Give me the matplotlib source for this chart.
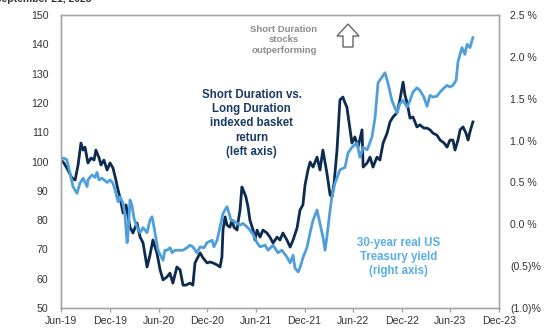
import numpy as np
import pandas as pd
import matplotlib
matplotlib.use("Agg")
import matplotlib.pyplot as plt
import matplotlib.dates as mdates
from matplotlib.patches import Polygon
from matplotlib.ticker import FuncFormatter, MultipleLocator

plt.rcParams['font.family'] = ['Liberation Sans', 'DejaVu Sans']

# Short vs long duration basket (index, left axis)
basket_dates = [
    '2019-06-01', '2019-06-12', '2019-06-27', '2019-07-12', '2019-07-24', '2019-08-04', '2019-08-15',
    '2019-08-23', '2019-08-30', '2019-09-10', '2019-09-22', '2019-10-03', '2019-10-10', '2019-10-22',
    '2019-10-29', '2019-11-09', '2019-11-21', '2019-12-02', '2019-12-13', '2019-12-24', '2020-01-01',
    '2020-01-08', '2020-01-20', '2020-01-31', '2020-02-15', '2020-02-26', '2020-03-12', '2020-03-24',
    '2020-04-04', '2020-04-19', '2020-04-30', '2020-05-11', '2020-05-26', '2020-06-07', '2020-06-18',
    '2020-07-03', '2020-07-14', '2020-07-25', '2020-08-09', '2020-08-21', '2020-09-01', '2020-09-12',
    '2020-09-27', '2020-10-08', '2020-10-16', '2020-10-27', '2020-11-04', '2020-11-15', '2020-11-30',
    '2020-12-11', '2020-12-22', '2021-01-07', '2021-01-18', '2021-01-25', '2021-01-29', '2021-02-06',
    '2021-02-13', '2021-02-24', '2021-03-04', '2021-03-11', '2021-03-23', '2021-03-26', '2021-04-03',
    '2021-04-10', '2021-04-18', '2021-04-25', '2021-05-03', '2021-05-10', '2021-05-22', '2021-05-29',
    '2021-06-06', '2021-06-17', '2021-06-28', '2021-07-13', '2021-07-24', '2021-08-05', '2021-08-20',
    '2021-08-31', '2021-09-11', '2021-09-26', '2021-10-08', '2021-10-19', '2021-11-03', '2021-11-14',
    '2021-11-25', '2021-12-03', '2021-12-14', '2021-12-22', '2022-01-02', '2022-01-17', '2022-01-28',
    '2022-02-08', '2022-02-23', '2022-03-07', '2022-03-14', '2022-03-22', '2022-04-02', '2022-04-13',
    '2022-04-24', '2022-05-02', '2022-05-09', '2022-05-21', '2022-05-28', '2022-06-08', '2022-06-20',
    '2022-07-05', '2022-07-09', '2022-07-24', '2022-08-04', '2022-08-15', '2022-08-30', '2022-09-10',
    '2022-09-22', '2022-10-07', '2022-10-18', '2022-10-29', '2022-11-13', '2022-11-24', '2022-12-06',
    '2022-12-13', '2022-12-21', '2023-01-01', '2023-01-12', '2023-01-27', '2023-02-07', '2023-02-22',
    '2023-03-06', '2023-03-17', '2023-03-28', '2023-04-12', '2023-04-24', '2023-05-09', '2023-05-20',
    '2023-05-31', '2023-06-11', '2023-06-19', '2023-06-30', '2023-07-08', '2023-07-19', '2023-07-30',
    '2023-08-07', '2023-08-14', '2023-08-25',
]
basket_values = [
    100.5, 99.5, 97.1, 94.4, 93.7, 98.8, 106.3,
    103.9, 104.9, 99.5, 101.2, 100.5, 103.9, 101.2,
    98.8, 100.5, 97.1, 99.5, 97.8, 93.7, 90.3,
    87.9, 82.4, 85.2, 77.6, 75.6, 79.0, 74.2,
    72.2, 64.0, 68.1, 73.2, 68.8, 63.0, 59.6,
    60.6, 61.9, 58.5, 64.0, 63.0, 57.8, 57.8,
    58.5, 57.8, 65.4, 67.4, 68.8, 67.1, 65.4,
    65.7, 65.4, 64.7, 64.0, 67.4, 76.6, 81.1,
    78.3, 77.6, 80.0, 77.6, 76.6, 79.0, 83.4,
    91.3, 89.6, 87.9, 84.5, 80.0, 76.6, 73.2,
    76.6, 74.2, 76.6, 75.6, 74.2, 72.2, 74.2,
    73.2, 75.6, 73.2, 70.8, 73.2, 77.3, 83.4,
    85.2, 92.0, 97.1, 99.8, 98.1, 101.5, 97.1,
    103.9, 96.1, 88.6, 87.9, 92.7, 103.9, 121.0,
    122.0, 120.0, 118.6, 110.8, 106.3, 108.4, 104.9,
    110.8, 98.1, 99.5, 101.5, 98.1, 101.5, 100.5,
    106.3, 109.7, 113.5, 115.2, 116.6, 121.0, 127.1,
    122.7, 120.0, 114.8, 115.2, 111.8, 112.5, 111.4,
    111.4, 110.8, 109.7, 109.0, 107.3, 106.3, 104.9,
    107.3, 107.3, 103.9, 107.3, 110.8, 111.8, 109.7,
    107.3, 110.1, 113.5,
]

# 30-year real US Treasury yield (%, right axis)
yield_dates = [
    '2019-06-01', '2019-06-12', '2019-06-23', '2019-07-05', '2019-07-16', '2019-07-31', '2019-08-11',
    '2019-08-23', '2019-09-07', '2019-09-10', '2019-09-25', '2019-10-07', '2019-10-14', '2019-10-22',
    '2019-11-02', '2019-11-21', '2019-12-02', '2019-12-13', '2019-12-21', '2020-01-01', '2020-01-08',
    '2020-01-20', '2020-01-27', '2020-02-04', '2020-02-07', '2020-02-15', '2020-02-22', '2020-03-01',
    '2020-03-12', '2020-03-24', '2020-04-04', '2020-04-19', '2020-04-30', '2020-05-08', '2020-05-15',
    '2020-05-30', '2020-06-10', '2020-06-18', '2020-06-25', '2020-07-03', '2020-07-14', '2020-07-22',
    '2020-08-02', '2020-08-13', '2020-09-01', '2020-09-16', '2020-09-27', '2020-10-08', '2020-10-23',
    '2020-11-04', '2020-11-19', '2020-11-30', '2020-12-19', '2020-12-26', '2021-01-07', '2021-01-18',
    '2021-01-29', '2021-02-13', '2021-02-21', '2021-02-28', '2021-03-15', '2021-04-03', '2021-04-14',
    '2021-04-29', '2021-05-10', '2021-05-22', '2021-06-06', '2021-06-17', '2021-07-06', '2021-07-17',
    '2021-08-05', '2021-08-23', '2021-09-07', '2021-09-26', '2021-10-08', '2021-10-19', '2021-10-26',
    '2021-11-07', '2021-11-14', '2021-11-25', '2021-12-10', '2021-12-22', '2022-01-02', '2022-01-17',
    '2022-01-28', '2022-02-08', '2022-02-16', '2022-02-23', '2022-03-07', '2022-03-14', '2022-03-25',
    '2022-04-13', '2022-05-02', '2022-05-13', '2022-05-28', '2022-06-16', '2022-06-27', '2022-07-09',
    '2022-07-24', '2022-08-11', '2022-08-23', '2022-09-03', '2022-09-18', '2022-09-29', '2022-10-10',
    '2022-10-25', '2022-11-13', '2022-11-24', '2022-12-06', '2022-12-21', '2023-01-01', '2023-01-12',
    '2023-01-27', '2023-02-07', '2023-02-22', '2023-03-06', '2023-03-17', '2023-03-28', '2023-04-12',
    '2023-04-24', '2023-05-09', '2023-05-20', '2023-05-31', '2023-06-11', '2023-06-23', '2023-06-30',
    '2023-07-15', '2023-07-26', '2023-08-03', '2023-08-14', '2023-08-25',
]
yield_values = [
    0.79, 0.79, 0.77, 0.61, 0.45, 0.37, 0.49,
    0.55, 0.45, 0.53, 0.59, 0.56, 0.62, 0.53,
    0.55, 0.50, 0.53, 0.49, 0.41, 0.27, 0.33,
    0.25, 0.11, -0.22, -0.15, 0.29, 0.23, 0.07,
    -0.03, -0.10, -0.04, -0.10, 0.05, 0.09, -0.03,
    -0.31, -0.38, -0.43, -0.31, -0.31, -0.28, -0.34,
    -0.31, -0.31, -0.31, -0.28, -0.25, -0.27, -0.34,
    -0.27, -0.28, -0.22, -0.19, -0.27, -0.19, -0.03,
    0.13, 0.21, 0.13, 0.05, 0.03, -0.01, 0.01,
    -0.03, -0.07, -0.12, -0.22, -0.27, -0.25, -0.31,
    -0.25, -0.34, -0.31, -0.39, -0.46, -0.37, -0.52,
    -0.57, -0.52, -0.40, -0.28, -0.10, 0.05, 0.17,
    0.01, -0.15, -0.31, -0.15, 0.17, 0.33, 0.49,
    0.65, 0.68, 0.85, 0.92, 0.97, 0.80, 0.92,
    0.89, 1.04, 1.28, 1.69, 1.76, 1.81, 1.69,
    1.48, 1.33, 1.44, 1.48, 1.40, 1.48, 1.58,
    1.63, 1.60, 1.52, 1.41, 1.54, 1.52, 1.53,
    1.58, 1.63, 1.66, 1.64, 1.66, 1.72, 1.94,
    2.11, 2.03, 2.15, 2.11, 2.23,
]

tick_dates = ['2019-06-01', '2019-12-01', '2020-06-01', '2020-12-01', '2021-06-01',
              '2021-12-01', '2022-06-01', '2022-12-01', '2023-06-01', '2023-12-01']

navy = '#0c2b4f'
light_blue = '#4f9fdc'
axis_grey = '#a6a6a6'

fig = plt.figure(figsize=(5.56, 3.29), dpi=100)
ax = fig.add_axes([61 / 556, 1 - 308 / 329, 438 / 556, 293 / 329])
ax2 = ax.twinx()

ax.plot(pd.to_datetime(basket_dates), basket_values, color=navy, lw=2.0)
ax2.plot(pd.to_datetime(yield_dates), yield_values, color=light_blue, lw=2.0)

ax.set_xlim(pd.Timestamp(tick_dates[0]), pd.Timestamp(tick_dates[-1]))
ax.set_ylim(50, 150)
ax2.set_ylim(-1.0, 2.5)
ax.yaxis.set_major_locator(MultipleLocator(10))
ax2.yaxis.set_major_locator(MultipleLocator(0.5))

ax.set_xticks(pd.to_datetime(tick_dates))
ax.xaxis.set_major_formatter(mdates.DateFormatter('%b-%y'))


def pct_label(v, pos):
    if v < -1e-9:
        return f"({abs(v):.1f})%"
    return f"{abs(v):.1f} %"


ax2.yaxis.set_major_formatter(FuncFormatter(pct_label))

for a in (ax, ax2):
    for s in a.spines.values():
        s.set_color(axis_grey)
        s.set_linewidth(1.0)
ax.tick_params(axis='x', length=3, width=1, color=axis_grey, pad=3, labelsize=7.6, labelcolor='#333333')
ax.tick_params(axis='y', length=0, pad=9, labelsize=7.6, labelcolor='#333333')
ax2.tick_params(axis='y', length=0, pad=8, labelsize=7.6, labelcolor='#333333')

# series labels
ax.text(0.435, 0.63, "Short Duration vs.\nLong Duration\nindexed basket\nreturn\n(left axis)",
        transform=ax.transAxes, ha='center', va='center', fontsize=8.3, fontweight='bold',
        color='#1c3a64', linespacing=1.25)
ax.text(0.77, 0.174, "30-year real US\nTreasury yield\n(right axis)",
        transform=ax.transAxes, ha='center', va='center', fontsize=8.3, fontweight='bold',
        color='#5aaee2', linespacing=1.25)
ax.text(0.509, 0.915, "Short Duration\nstocks\noutperforming",
        transform=ax.transAxes, ha='center', va='center', fontsize=6.8, fontweight='bold',
        color='#8c8c8c', linespacing=1.2)

# up arrow next to the note
arrow_px = [(348, 24), (337, 36), (343, 36), (343, 47), (353, 47), (353, 36), (359, 36)]
arrow = Polygon([(x / 556, 1 - y / 329) for x, y in arrow_px], closed=True,
                transform=fig.transFigure, facecolor='white', edgecolor='#666666', lw=1.0)
fig.patches.append(arrow)

fig.text(92 / 556, 1 - 2 / 329, "As of September 21, 2023", ha='right', va='baseline',
         fontsize=7.5, fontweight='bold', color='#333333')

fig.savefig("out.png", dpi=100)
